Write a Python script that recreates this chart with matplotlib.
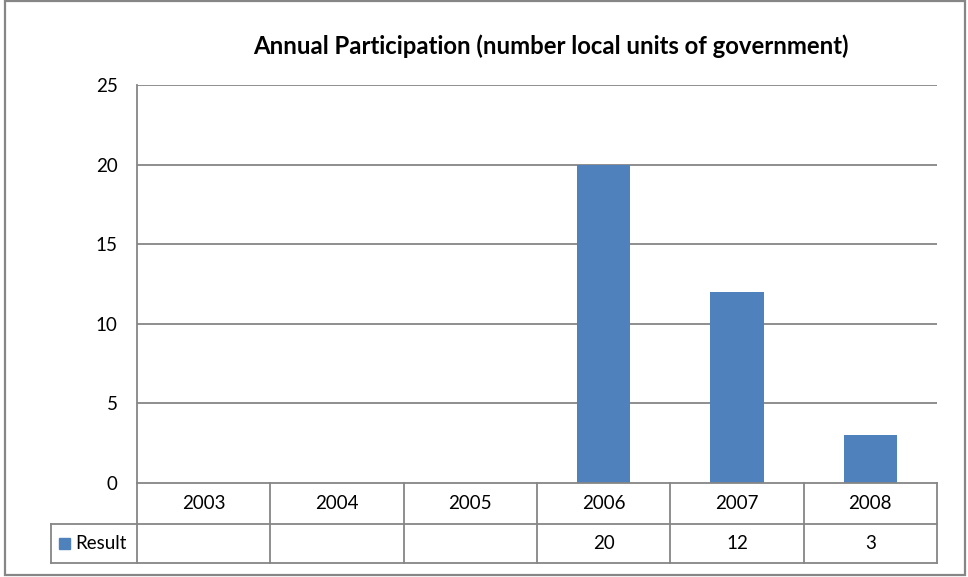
import matplotlib
matplotlib.use("Agg")
import matplotlib.pyplot as plt
from matplotlib.patches import Rectangle
from matplotlib.lines import Line2D

categories = ["2003", "2004", "2005", "2006", "2007", "2008"]
values = [0, 0, 0, 20, 12, 3]
table_text = ["", "", "", "20", "12", "3"]
series_name = "Result"
yticks = [0, 5, 10, 15, 20, 25]
title = "Annual Participation (number local units of government)"

W, H = 968, 577
fig = plt.figure(figsize=(W / 100, H / 100), dpi=100)
plt.rcParams['font.family'] = ['Lato', 'DejaVu Sans']

L, R, T, B = 137, 937, 85, 483
ax = fig.add_axes([L / W, 1 - B / H, (R - L) / W, (B - T) / H])
bar_color = "#4f81bd"
grid_color = "#868686"
fs = 13.5

n = len(categories)
x = list(range(n))
ax.bar(x, values, width=0.4, color=bar_color, zorder=3)
ax.set_xlim(-0.5, n - 0.5)
ax.set_ylim(0, 25)
ax.set_yticks(yticks)
ax.set_yticklabels([str(v) for v in yticks], fontsize=fs)
ax.tick_params(axis='y', length=0, pad=14)
ax.set_xticks([])
for y in yticks[1:]:
    ax.axhline(y, color=grid_color, lw=1.3, zorder=1)
for s in ["top", "right", "bottom"]:
    ax.spines[s].set_visible(False)
ax.spines["left"].set_color(grid_color)
ax.spines["left"].set_linewidth(1.3)


def fx(px):
    return px / W


def fy(py):
    return 1 - py / H


fig.text(fx(551), fy(46), title, fontsize=17.2, fontweight='bold', ha='center', va='center')

# data table below the axes
row1_top, row1_bot, row2_bot = 483, 524, 563
leg_left = 51
cw = (R - L) / n
lines = []
lines.append(((L, row1_top), (R, row1_top)))
lines.append(((L, row1_bot), (R, row1_bot)))
lines.append(((leg_left, row1_bot), (L, row1_bot)))
lines.append(((leg_left, row2_bot), (R, row2_bot)))
lines.append(((leg_left, row1_bot), (leg_left, row2_bot)))
for k in range(n + 1):
    xp = L + k * cw
    lines.append(((xp, row1_top), (xp, row2_bot)))
for (x0, y0), (x1, y1) in lines:
    fig.add_artist(Line2D([fx(x0), fx(x1)], [fy(y0), fy(y1)], color=grid_color, lw=1.3))

for k in range(n):
    xc = L + (k + 0.5) * cw
    fig.text(fx(xc), fy((row1_top + row1_bot) / 2), categories[k], ha='center', va='center', fontsize=fs)
    fig.text(fx(xc), fy((row1_bot + row2_bot) / 2), table_text[k], ha='center', va='center', fontsize=fs)

# legend key in table
fig.add_artist(Rectangle((fx(59), fy(549)), 11 / W, 11 / H, color=bar_color))
fig.text(fx(75), fy((row1_bot + row2_bot) / 2), series_name, ha='left', va='center', fontsize=fs)

# outer chart border
fig.add_artist(Rectangle((fx(5), fy(575)), 960 / W, 574 / H, fill=False, edgecolor=grid_color, lw=1.6))

fig.savefig("out.png", dpi=100)
